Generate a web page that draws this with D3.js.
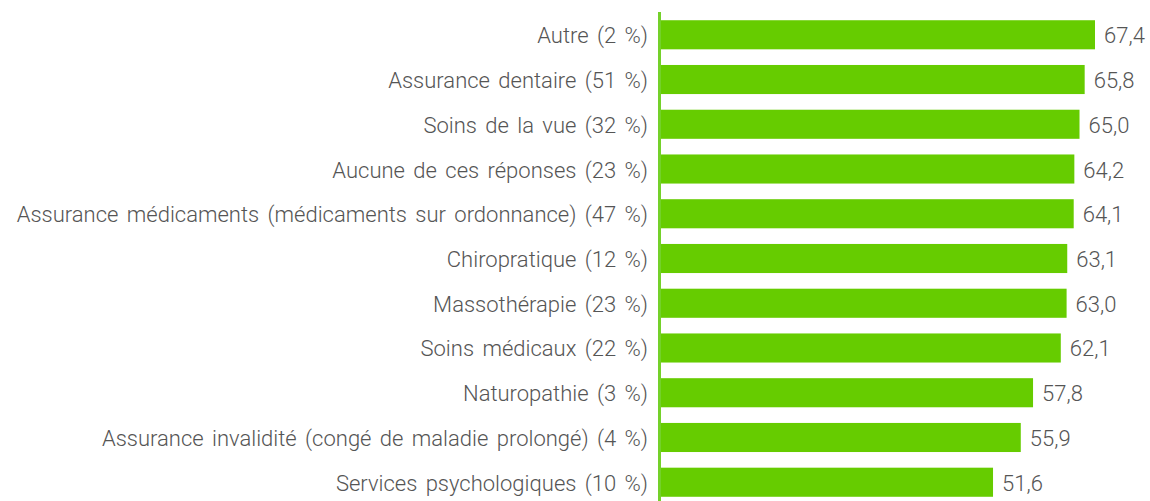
<!DOCTYPE html>
<html>
<head>
<meta charset="utf-8">
<script src="https://cdn.jsdelivr.net/npm/d3@7"></script>
<style>
  body { margin: 0; background: #fff; }
  svg text { font-family: Roboto, "Liberation Sans", sans-serif; font-weight: 300; fill: #555; }
</style>
</head>
<body>
<svg id="chart"></svg>
<script>
const width = 1150;
const height = 501;

const categories = [
  "Autre (2 %)",
  "Assurance dentaire (51 %)",
  "Soins de la vue (32 %)",
  "Aucune de ces réponses (23 %)",
  "Assurance médicaments (médicaments sur ordonnance) (47 %)",
  "Chiropratique (12 %)",
  "Massothérapie (23 %)",
  "Soins médicaux (22 %)",
  "Naturopathie (3 %)",
  "Assurance invalidité (congé de maladie prolongé) (4 %)",
  "Services psychologiques (10 %)"
];
const values = [67.4, 65.8, 65.0, 64.2, 64.1, 63.1, 63.0, 62.1, 57.8, 55.9, 51.6];

const svg = d3.select('#chart')
    .attr('width', width).attr('height', height);

const x0 = 660;
const x = d3.scaleLinear().domain([0, 67.4]).range([x0, 1095]);
const y = d3.scaleBand()
    .domain(categories)
    .range([12.4, 504.6])
    .paddingInner(0.35)
    .paddingOuter(0.175);

const rows = categories.map((c, i) => ({ cat: c, val: values[i] }));
const mid = d => y(d.cat) + y.bandwidth() / 2;

svg.append('g').selectAll('rect')
    .data(rows)
    .enter().append('rect')
    .attr('x', x(0))
    .attr('y', d => y(d.cat))
    .attr('width', d => x(d.val) - x(0))
    .attr('height', y.bandwidth())
    .style('fill', '#66cc00');

// axis line
svg.append('line')
    .attr('x1', x0 - 0.5).attr('x2', x0 - 0.5)
    .attr('y1', 12).attr('y2', height)
    .style('stroke', '#74d12a')
    .style('stroke-width', 3);

svg.append('g').selectAll('text.cat')
    .data(rows)
    .enter().append('text')
    .attr('class', 'cat')
    .attr('x', 648)
    .attr('y', d => mid(d) + 8.5)
    .attr('text-anchor', 'end')
    .style('font-size', '22px')
    .style('word-spacing', '3px')
    .text(d => d.cat);

svg.append('g').selectAll('text.val')
    .data(rows)
    .enter().append('text')
    .attr('class', 'val')
    .attr('x', d => x(d.val) + 9)
    .attr('y', d => mid(d) + 8.5)
    .style('font-size', '22px')
    .text(d => d3.format('.1f')(d.val).replace('.', ','));
</script>
</body>
</html>
